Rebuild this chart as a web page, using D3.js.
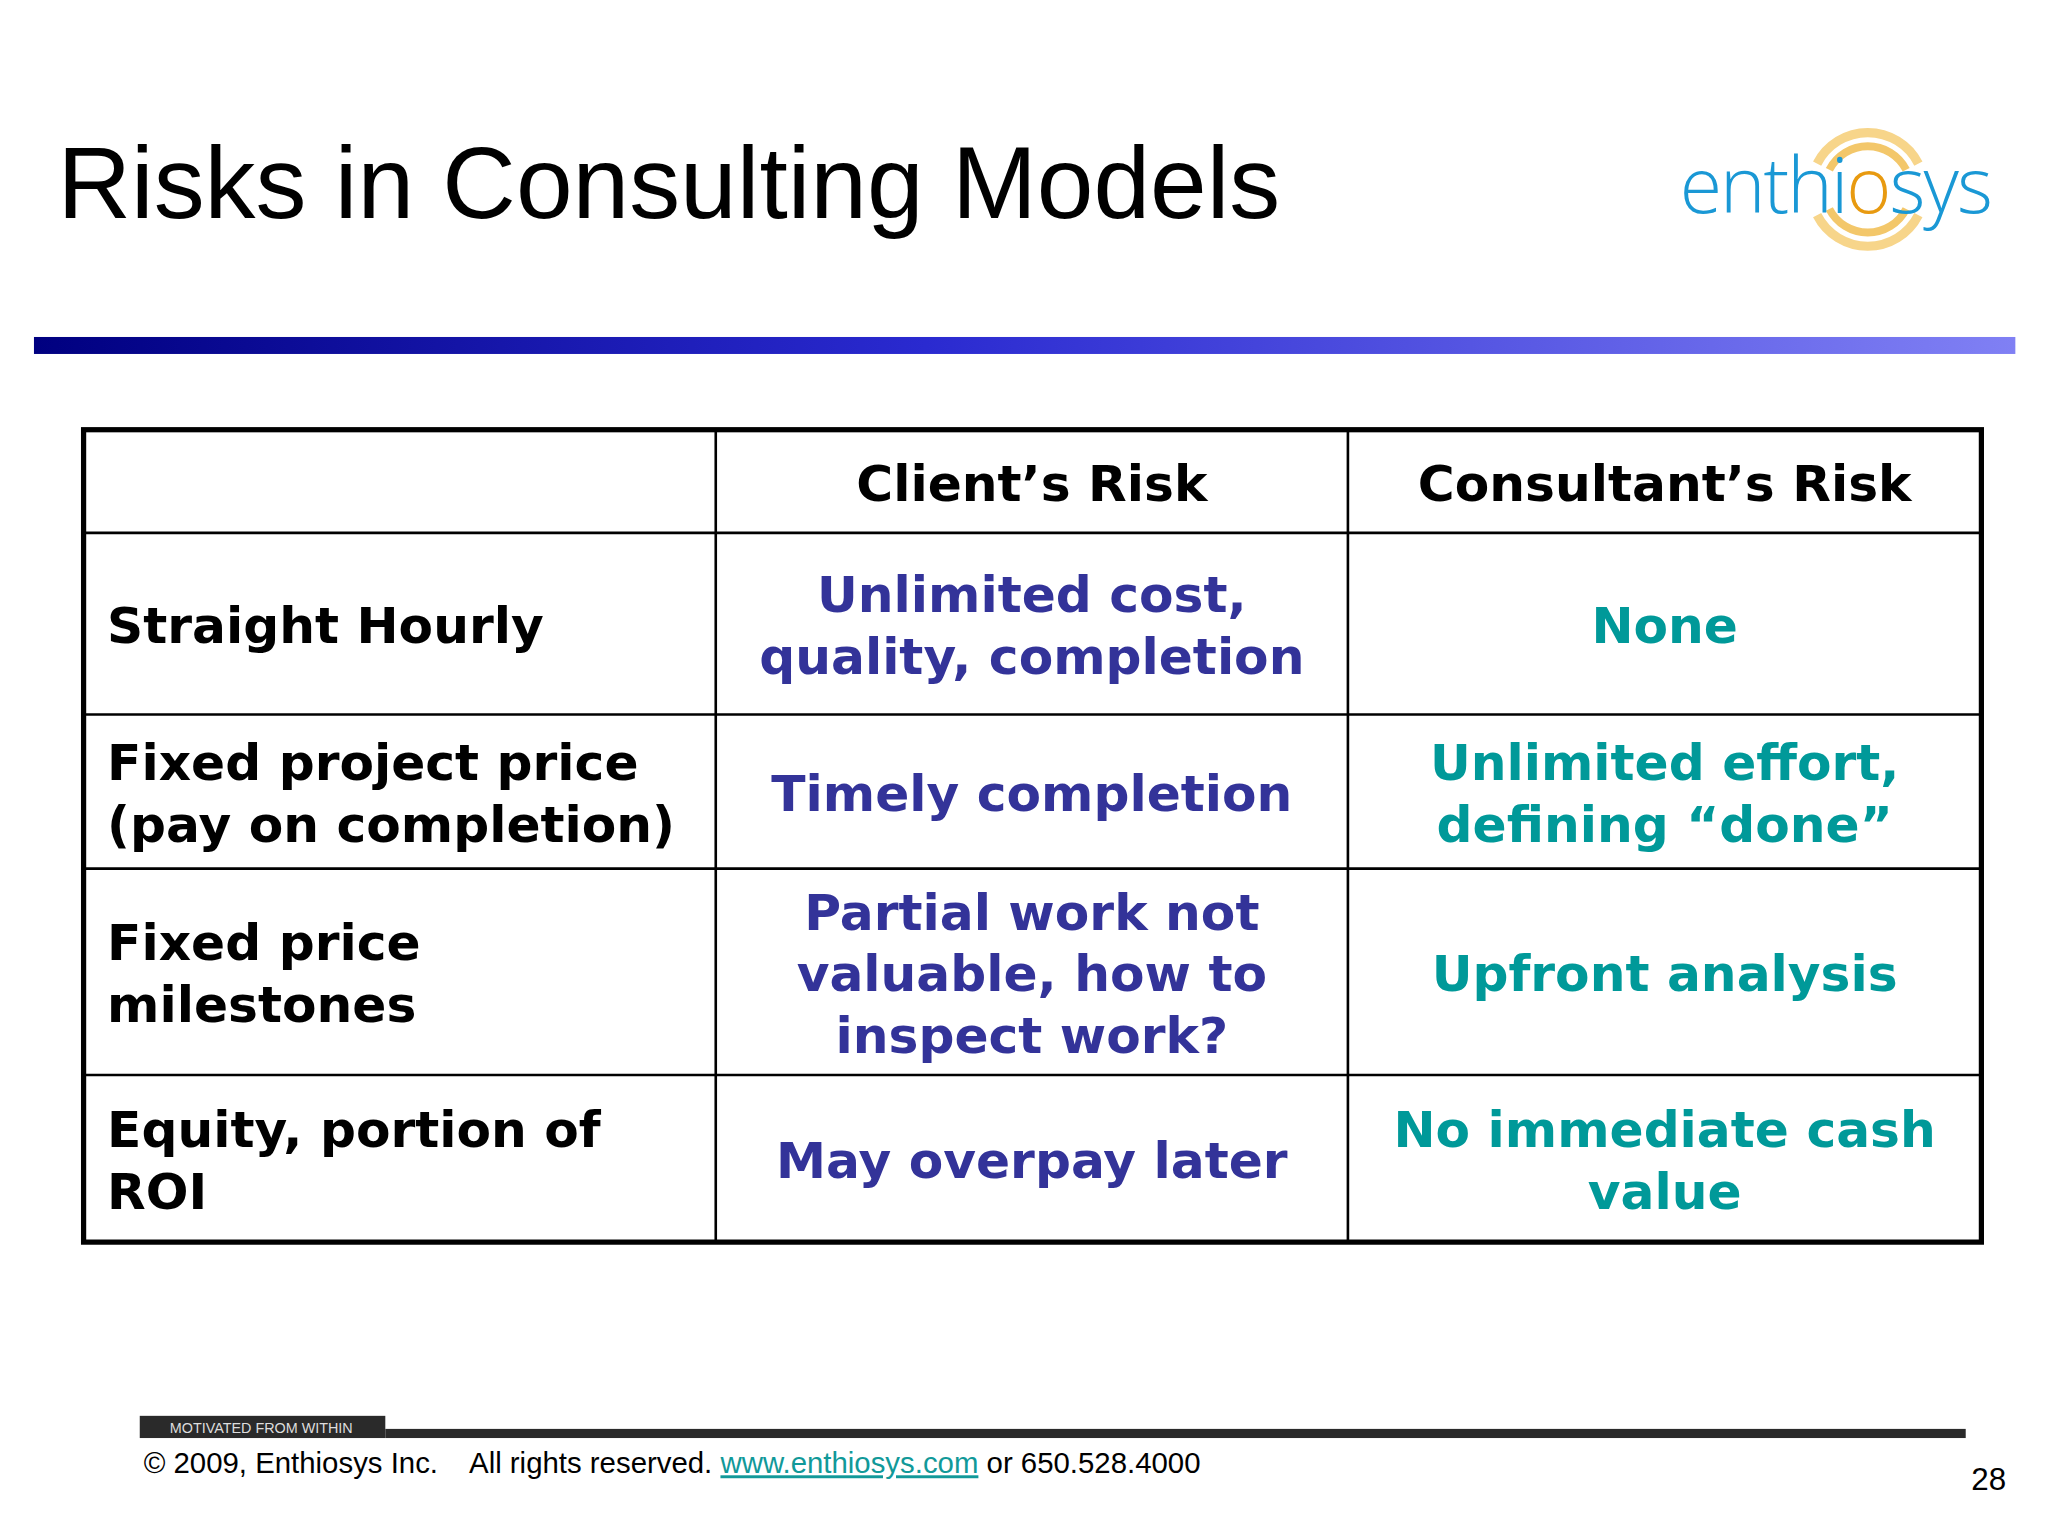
<!DOCTYPE html>
<html><head><meta charset="utf-8">
<script src="https://cdn.jsdelivr.net/npm/d3@7"></script>
<style>html,body{margin:0;padding:0;background:#fff}</style>
</head><body>
<svg id="c" width="2048" height="1536" viewBox="0 0 1568 1176"></svg>
<script>
const title = "Risks in Consulting Models";
const headers = ["", "Client\u2019s Risk", "Consultant\u2019s Risk"];
const models = [["Straight Hourly"], ["Fixed project price", "(pay on completion)"], ["Fixed price", "milestones"], ["Equity, portion of", "ROI"]];
const clientRisk = [["Unlimited cost,", "quality, completion"], ["Timely completion"], ["Partial work not", "valuable, how to", "inspect work?"], ["May overpay later"]];
const consultantRisk = [["None"], ["Unlimited effort,", "defining \u201cdone\u201d"], ["Upfront analysis"], ["No immediate cash", "value"]];
const rowWeights = [79, 139, 118, 158, 128];

const svg = d3.select("#c");
const defs = svg.append("defs");
const g = defs.append("linearGradient").attr("id","bar");
g.append("stop").attr("offset","0").attr("stop-color","#000080");
g.append("stop").attr("offset","0.45").attr("stop-color","#2a2ad0");
g.append("stop").attr("offset","1").attr("stop-color","#8080f4");

svg.append("text").attr("x",44).attr("y",167).attr("font-family","Liberation Sans, Arial")
  .attr("font-size",78).attr("fill","#000").text(title);
svg.append("rect").attr("x",26).attr("y",258).attr("width",1517).attr("height",13).attr("fill","url(#bar)");

// logo
const logo = svg.append("g");
[[30,"#f7d58a",7],[20,"#f3c76a",6]].forEach(([r,c,w])=>{
  [-1,1].forEach(s=>{
    const arc = d3.arc().innerRadius(r+10).outerRadius(r+10+w)
      .startAngle(s<0?-1.1:Math.PI-1.1).endAngle(s<0?1.1:Math.PI+1.1);
    logo.append("path").attr("d",arc()).attr("transform","translate(1430,145)").attr("fill",c);
  });
});
const lt = logo.append("text").attr("x",1286).attr("y",163).attr("font-family","Open Sans, Noto Sans")
  .attr("font-weight",300).attr("font-size",59).attr("fill","#1a98d5").attr("letter-spacing",-1.5);
lt.append("tspan").text("enthi");
lt.append("tspan").attr("fill","#e89a10").text("o");
lt.append("tspan").text("sys");

// table
const yEdges = [329]; rowWeights.forEach(w=>yEdges.push(yEdges[yEdges.length-1]+w));
const colX = [64,548,1032,1517];
const t = svg.append("g");
yEdges.slice(1,-1).forEach(y=>t.append("line").attr("x1",64).attr("x2",1517).attr("y1",y).attr("y2",y).attr("stroke","#000").attr("stroke-width",2));
colX.slice(1,-1).forEach(x=>t.append("line").attr("x1",x).attr("x2",x).attr("y1",329).attr("y2",951).attr("stroke","#000").attr("stroke-width",2));
t.append("rect").attr("x",64).attr("y",329).attr("width",1453).attr("height",622).attr("fill","none").attr("stroke","#000").attr("stroke-width",4);

const fs = 38.5, lh = 47;
function cell(lines, col, row, color, anchor){
  const top=yEdges[row], bot=yEdges[row+1], mid=(top+bot)/2;
  const x = anchor==="start" ? colX[col]+18 : (colX[col]+colX[col+1])/2;
  const n=lines.length;
  lines.forEach((l,i)=>{
    t.append("text").attr("x",x).attr("y",mid+(i-(n-1)/2)*lh+fs*0.36+1)
     .attr("text-anchor",anchor).attr("font-family","DejaVu Sans, Verdana").attr("font-weight","bold")
     .attr("font-size",fs).attr("fill",color).text(l);
  });
}
headers.forEach((h,i)=>{ if(h) cell([h],i,0,"#000","middle"); });
models.forEach((m,i)=>cell(m,0,i+1,"#000","start"));
clientRisk.forEach((m,i)=>cell(m,1,i+1,"#333399","middle"));
consultantRisk.forEach((m,i)=>cell(m,2,i+1,"#009999","middle"));

// footer
svg.append("rect").attr("x",107).attr("y",1084).attr("width",188).attr("height",17).attr("fill","#2a2a2a");
svg.append("rect").attr("x",295).attr("y",1094).attr("width",1210).attr("height",7).attr("fill","#2a2a2a");
svg.append("text").attr("x",130).attr("y",1097).attr("font-family","Liberation Sans Narrow, Liberation Sans")
  .attr("font-size",11).attr("fill","#ddd").text("MOTIVATED FROM WITHIN");
const ft = svg.append("text").attr("x",110).attr("y",1128).attr("font-family","Liberation Sans Narrow, Liberation Sans")
  .attr("font-size",22.5).attr("fill","#000");
ft.append("tspan").text("\u00a9 2009, Enthiosys Inc.\u00a0\u00a0\u00a0 All rights reserved. ");
ft.append("tspan").attr("fill","#119999").attr("text-decoration","underline").text("www.enthiosys.com");
ft.append("tspan").text(" or 650.528.4000");
svg.append("text").attr("x",1536).attr("y",1141).attr("text-anchor","end").attr("font-family","Liberation Sans, Arial")
  .attr("font-size",24).attr("fill","#000").text("28");
</script>
</body></html>
